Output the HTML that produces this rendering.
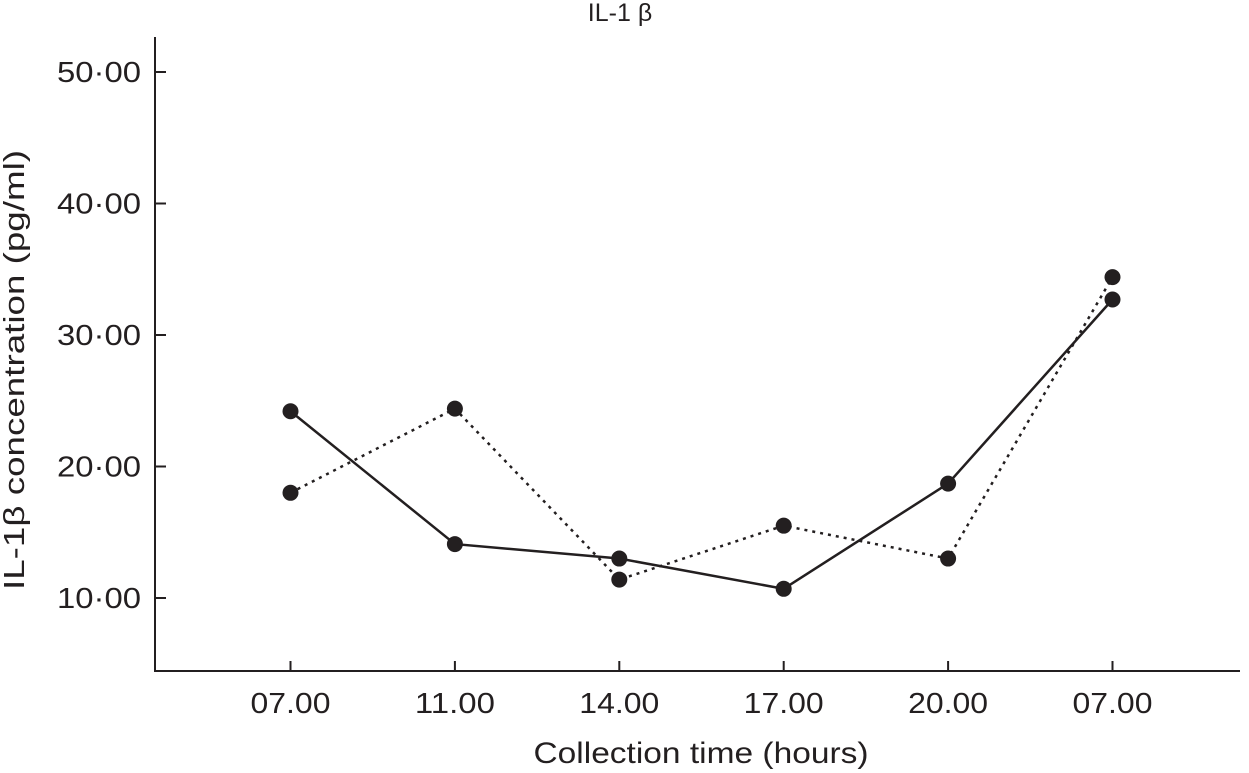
<!DOCTYPE html>
<html><head><meta charset="utf-8"><style>body{margin:0;background:#fff}svg{display:block;font-family:"Liberation Sans",sans-serif;fill:#231f20}</style></head>
<body>
<svg id="chart" width="1249" height="773" viewBox="0 0 1249 773">
<text x="620" y="21" font-size="25" text-anchor="middle">IL-1 β</text>
<line x1="155" y1="37" x2="155" y2="671" stroke="#231f20" stroke-width="2"/>
<line x1="154" y1="671" x2="1240" y2="671" stroke="#231f20" stroke-width="2"/>
<text transform="translate(24,370) rotate(-90)" font-size="29" text-anchor="middle" textLength="440" lengthAdjust="spacingAndGlyphs">IL-1β concentration (pg/ml)</text>
<text x="701" y="763" font-size="30" text-anchor="middle" textLength="335" lengthAdjust="spacingAndGlyphs">Collection time (hours)</text>
<g id="ticks"></g><g id="series"></g>
</svg>
<script>
const categories=["07.00","11.00","14.00","17.00","20.00","07.00"];
const yTicks=[10,20,30,40,50];
const yTickLabels=["10·00","20·00","30·00","40·00","50·00"];
const solidValues=[24.2,14.1,13.0,10.7,18.7,32.7];
const dottedValues=[18.0,24.4,11.4,15.5,13.0,34.4];
const NS="http://www.w3.org/2000/svg";
const x=i=>290.5+i*164.4;
const y=v=>729.5-v*13.15;
function mk(tag,attrs,parent){const e=document.createElementNS(NS,tag);for(const k in attrs)e.setAttribute(k,attrs[k]);parent.appendChild(e);return e;}
const tg=document.getElementById('ticks'),sg=document.getElementById('series');
yTicks.forEach((v,i)=>{
 const l=mk('line',{x1:155,x2:166,y1:y(v),y2:y(v),stroke:'#231f20','stroke-width':2},tg);
 
 
 const t=mk('text',{x:141,y:y(v)+10,'font-size':29,'text-anchor':'end',textLength:84,lengthAdjust:'spacingAndGlyphs'},tg);t.textContent=yTickLabels[i];
 
 
});
categories.forEach((c,i)=>{
 const l=mk('line',{x1:x(i),x2:x(i),y1:671,y2:661,stroke:'#231f20','stroke-width':2},tg);
 
 
 const t=mk('text',{x:x(i),y:713,'font-size':29,'text-anchor':'middle',textLength:80,lengthAdjust:'spacingAndGlyphs'},tg);t.textContent=c;
 
 
});
function series(vals,dash,name){
 const p=mk('polyline',{points:vals.map((v,i)=>x(i)+','+y(v)).join(' '),fill:'none',stroke:'#231f20','stroke-width':2.5,'stroke-dasharray':dash||'none'},sg);
 
 
 vals.forEach((v,i)=>{const c=mk('circle',{cx:x(i),cy:y(v),r:8,fill:'#231f20'},sg);
 
 });
}
series(dottedValues,'3,5','dotted-series');
series(solidValues,null,'solid-series');
</script>
</body></html>
